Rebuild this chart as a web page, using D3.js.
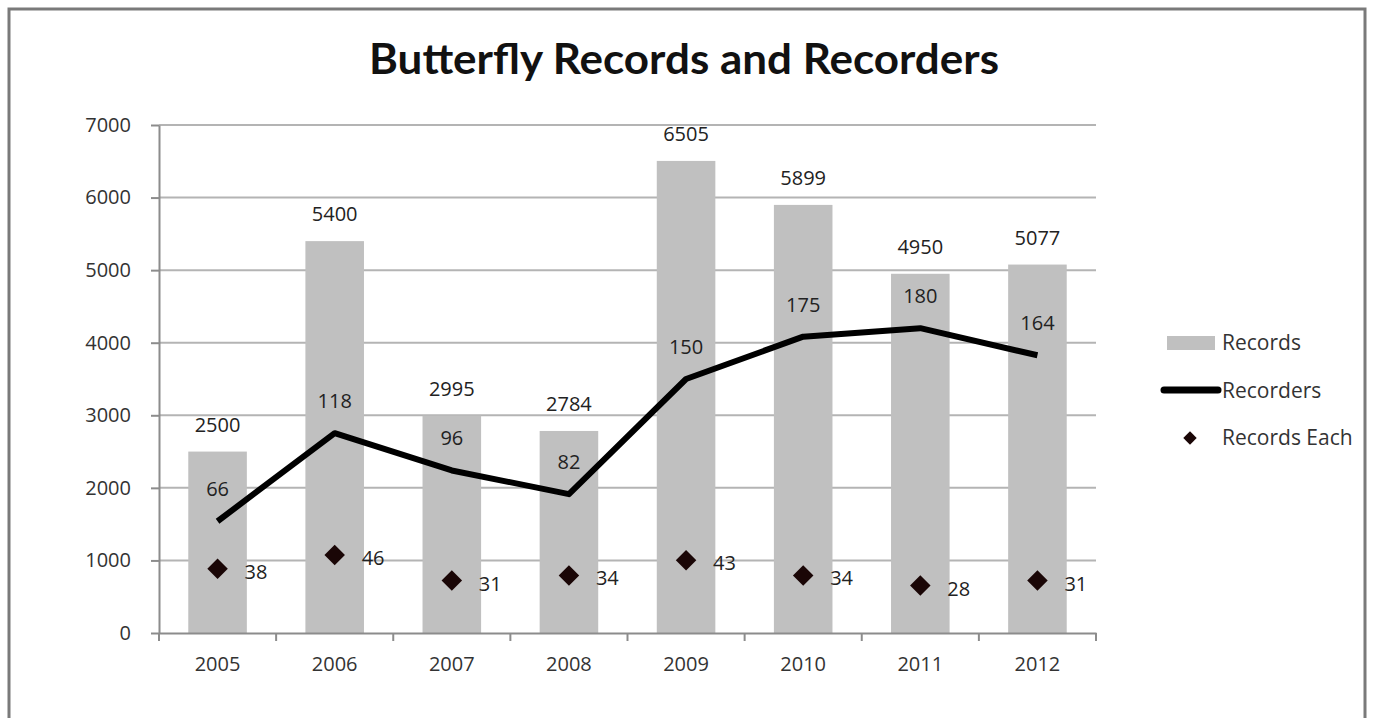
<!DOCTYPE html>
<html>
<head>
<meta charset="utf-8">
<script src="https://cdn.jsdelivr.net/npm/d3@7"></script>
<style>
  body { margin: 0; background: #fff; }
  svg { display: block; }
</style>
</head>
<body>
<div id="chart"></div>
<script>
const years = ["2005", "2006", "2007", "2008", "2009", "2010", "2011", "2012"]
const records = [2500, 5400, 2995, 2784, 6505, 5899, 4950, 5077]
const recorders = [66, 118, 96, 82, 150, 175, 180, 164]
const recordsEach = [38, 46, 31, 34, 43, 34, 28, 31]
const yTicks = [0, 1000, 2000, 3000, 4000, 5000, 6000, 7000]

const width = 1373
const height = 718
const margin = { top: 125, right: 277, bottom: 85, left: 159 }
const barColor = "#c0c0c0"
const font = "'Open Sans', 'DejaVu Sans', sans-serif"
const fs = 20

const svg = d3.select("#chart")
  .append("svg")
  .attr("width", width)
  .attr("height", height)
  .attr("viewBox", [0, 0, width, height])

svg.append("rect")
  .attr("x", 0).attr("y", 0).attr("width", width).attr("height", height)
  .attr("fill", "#fff")

// outer frame
svg.append("path")
  .attr("d", `M9,${height} V9 H1365 V${height}`)
  .attr("fill", "none")
  .attr("stroke", "#7a7a7a")
  .attr("stroke-width", 3)

svg.append("text")
  .attr("x", 684)
  .attr("y", 74)
  .attr("text-anchor", "middle")
  .attr("font-family", "Lato, 'Open Sans', sans-serif")
  .attr("font-weight", "bold")
  .attr("font-size", 42)
  .attr("textLength", 630)
  .attr("lengthAdjust", "spacingAndGlyphs")
  .attr("fill", "#111")
  .text("Butterfly Records and Recorders")

const x = d3.scaleBand()
  .domain(years)
  .range([margin.left, width - margin.right])

const y = d3.scaleLinear()
  .domain([0, 7000])
  .range([height - margin.bottom, margin.top])

// hidden secondary axis for recorders / records each
const y2 = d3.scaleLinear()
  .domain([0, 300])
  .range([height - margin.bottom, margin.top])

const cx = d => x(d) + x.bandwidth() / 2

// gridlines
svg.append("g")
  .selectAll("line")
  .data(yTicks.slice(1))
  .join("line")
  .attr("x1", margin.left)
  .attr("x2", width - margin.right)
  .attr("y1", d => y(d))
  .attr("y2", d => y(d))
  .attr("stroke", "#b4b4b4")
  .attr("stroke-width", 2)

// bars
const barW = x.bandwidth() * 0.5
svg.append("g")
  .selectAll("rect")
  .data(years)
  .join("rect")
  .attr("x", d => cx(d) - barW / 2)
  .attr("y", (d, i) => y(records[i]))
  .attr("width", barW)
  .attr("height", (d, i) => y(0) - y(records[i]))
  .attr("fill", barColor)

// axes
const yAxis = d3.axisLeft(y).tickValues(yTicks).tickFormat(d3.format("d"))
  .tickSize(8).tickSizeOuter(0).tickPadding(20)
svg.append("g")
  .attr("transform", `translate(${margin.left},0)`)
  .call(yAxis)
  .call(g => g.select(".domain").attr("stroke", "#8c8c8c").attr("stroke-width", 2))
  .call(g => g.selectAll(".tick line").attr("stroke", "#8c8c8c").attr("stroke-width", 2))
  .call(g => g.selectAll(".tick text")
    .attr("font-family", font).attr("font-size", fs).attr("fill", "#333"))

const xAxis = d3.axisBottom(x).tickSize(0).tickPadding(24).tickSizeOuter(0)
const xg = svg.append("g")
  .attr("transform", `translate(0,${y(0)})`)
  .call(xAxis)
  .call(g => g.select(".domain").attr("stroke", "#8c8c8c").attr("stroke-width", 2))
  .call(g => g.selectAll(".tick text")
    .attr("font-family", font).attr("font-size", fs).attr("fill", "#333"))

// category boundary ticks
xg.append("g")
  .selectAll("line")
  .data(years.map(d => x(d)).concat([x(years[years.length - 1]) + x.bandwidth()]))
  .join("line")
  .attr("x1", d => d).attr("x2", d => d)
  .attr("y1", 0).attr("y2", 8)
  .attr("stroke", "#8c8c8c")
  .attr("stroke-width", 2)

// records labels
svg.append("g")
  .selectAll("text")
  .data(years)
  .join("text")
  .attr("x", d => cx(d))
  .attr("y", (d, i) => y(records[i]) - 20)
  .attr("text-anchor", "middle")
  .attr("font-family", font)
  .attr("font-size", fs)
  .attr("fill", "#222")
  .text((d, i) => records[i])

// recorders line
const line = d3.line()
  .x(d => cx(d))
  .y((d, i) => y2(recorders[i]))
svg.append("path")
  .datum(years)
  .attr("d", line)
  .attr("fill", "none")
  .attr("stroke", "#000")
  .attr("stroke-width", 6)
  .attr("stroke-linejoin", "round")

svg.append("g")
  .selectAll("text")
  .data(years)
  .join("text")
  .attr("x", d => cx(d))
  .attr("y", (d, i) => y2(recorders[i]) - 25)
  .attr("text-anchor", "middle")
  .attr("font-family", font)
  .attr("font-size", fs)
  .attr("fill", "#222")
  .text((d, i) => recorders[i])

// records each diamonds
const diamond = d3.symbol().type(d3.symbolSquare).size(210)
svg.append("g")
  .selectAll("path")
  .data(years)
  .join("path")
  .attr("d", diamond)
  .attr("transform", (d, i) => `translate(${cx(d)},${y2(recordsEach[i])}) rotate(45)`)
  .attr("fill", "#1a0606")

svg.append("g")
  .selectAll("text")
  .data(years)
  .join("text")
  .attr("x", d => cx(d) + 27)
  .attr("y", (d, i) => y2(recordsEach[i]) + 10)
  .attr("font-family", font)
  .attr("font-size", fs)
  .attr("fill", "#222")
  .text((d, i) => recordsEach[i])

// legend
const legend = svg.append("g").attr("font-family", font).attr("font-size", 21).attr("fill", "#333")
legend.append("rect")
  .attr("x", 1167).attr("y", 336).attr("width", 48).attr("height", 14)
  .attr("fill", barColor)
legend.append("text").attr("x", 1222).attr("y", 350).text("Records")
legend.append("line")
  .attr("x1", 1164).attr("x2", 1218).attr("y1", 390).attr("y2", 390)
  .attr("stroke", "#000").attr("stroke-width", 7).attr("stroke-linecap", "round")
legend.append("text").attr("x", 1222).attr("y", 398).text("Recorders")
legend.append("path")
  .attr("d", d3.symbol().type(d3.symbolSquare).size(90))
  .attr("transform", "translate(1190,438) rotate(45)")
  .attr("fill", "#1a0606")
legend.append("text").attr("x", 1222).attr("y", 445).text("Records Each")
</script>
</body>
</html>
